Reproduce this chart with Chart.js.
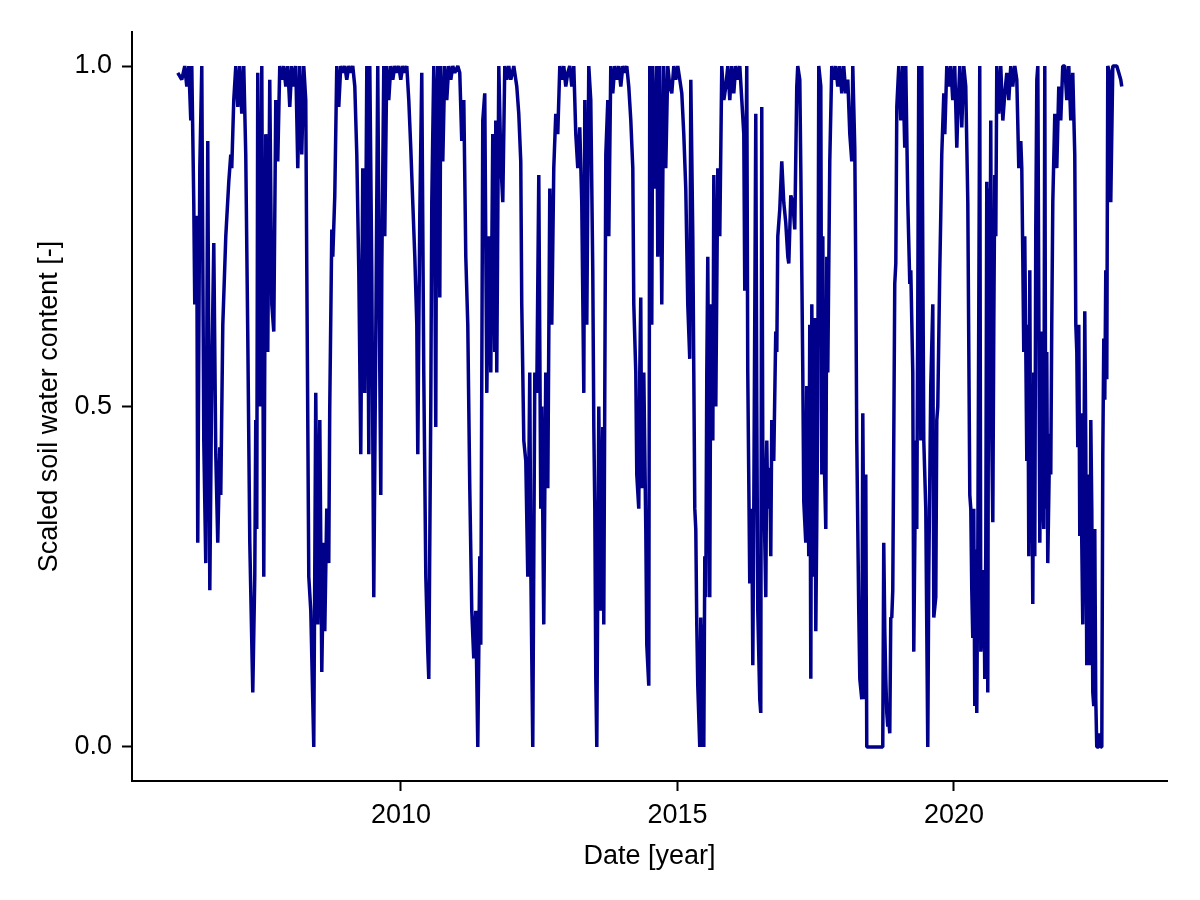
<!DOCTYPE html>
<html lang="en">
<head>
  <meta charset="UTF-8">
  <title>Scaled soil water content</title>
  <script src="https://cdn.jsdelivr.net/npm/chart.js"></script>
  <style>
    body {
      margin: 0;
      background: #ffffff;
    }
    .wrap {
      width: 1200px;
      height: 900px;
    }
  </style>
</head>
<body>
  <div class="wrap">
    <canvas id="soilChart" width="1200" height="900"></canvas>
  </div>

  <script>
    // decimal year of each sample
    const dates = [
      2005.964, 2006.036, 2006.090, 2006.127, 2006.163, 2006.199, 2006.217, 2006.253, 2006.271, 2006.307, 2006.325, 2006.362, 2006.398, 2006.434, 2006.470, 2006.506, 2006.543, 2006.579, 2006.615, 2006.651, 2006.687, 2006.723, 2006.741, 2006.778, 2006.832, 2006.886, 2006.922, 2006.940, 2006.976,
      2007.013, 2007.049, 2007.085, 2007.121, 2007.157, 2007.193, 2007.230, 2007.266, 2007.320, 2007.356, 2007.374, 2007.392, 2007.410, 2007.447, 2007.483, 2007.519, 2007.555, 2007.591, 2007.627, 2007.664, 2007.700, 2007.736, 2007.772, 2007.808, 2007.844, 2007.881, 2007.917, 2007.953, 2007.989,
      2008.025, 2008.061, 2008.098, 2008.134, 2008.170, 2008.206, 2008.242, 2008.278, 2008.297, 2008.333, 2008.369, 2008.423, 2008.459, 2008.495, 2008.532, 2008.568, 2008.604, 2008.622, 2008.658, 2008.694, 2008.712, 2008.749, 2008.767, 2008.803, 2008.839, 2008.875, 2008.911, 2008.948, 2008.984,
      2009.020, 2009.056, 2009.092, 2009.128, 2009.165, 2009.201, 2009.237, 2009.273, 2009.309, 2009.345, 2009.382, 2009.418, 2009.436, 2009.472, 2009.508, 2009.544, 2009.580, 2009.617, 2009.635, 2009.653, 2009.689, 2009.707, 2009.743, 2009.779, 2009.816, 2009.852, 2009.888, 2009.924, 2009.960, 2009.996,
      2010.033, 2010.069, 2010.105, 2010.141, 2010.177, 2010.213, 2010.250, 2010.286, 2010.304, 2010.340, 2010.376, 2010.412, 2010.449, 2010.485, 2010.503, 2010.539, 2010.557, 2010.593, 2010.629, 2010.647, 2010.665, 2010.702, 2010.720, 2010.756, 2010.792, 2010.828, 2010.864, 2010.901, 2010.937, 2010.973,
      2011.027, 2011.063, 2011.099, 2011.136, 2011.172, 2011.208, 2011.244, 2011.280, 2011.316, 2011.353, 2011.389, 2011.425, 2011.443, 2011.479, 2011.515, 2011.552, 2011.588, 2011.624, 2011.660, 2011.696, 2011.714, 2011.732, 2011.769, 2011.805, 2011.841, 2011.877, 2011.913, 2011.949, 2011.986,
      2012.040, 2012.094, 2012.130, 2012.166, 2012.184, 2012.221, 2012.257, 2012.293, 2012.329, 2012.347, 2012.383, 2012.420, 2012.456, 2012.492, 2012.528, 2012.546, 2012.582, 2012.618, 2012.655, 2012.691, 2012.727, 2012.763, 2012.799, 2012.835, 2012.872, 2012.908, 2012.944, 2012.980,
      2013.016, 2013.052, 2013.089, 2013.125, 2013.161, 2013.197, 2013.233, 2013.269, 2013.306, 2013.324, 2013.360, 2013.396, 2013.432, 2013.468, 2013.487, 2013.505, 2013.523, 2013.541, 2013.577, 2013.613, 2013.649, 2013.667, 2013.704, 2013.740, 2013.758, 2013.794, 2013.830, 2013.866, 2013.902, 2013.939, 2013.975,
      2014.011, 2014.047, 2014.083, 2014.119, 2014.156, 2014.192, 2014.210, 2014.246, 2014.264, 2014.300, 2014.318, 2014.336, 2014.354, 2014.391, 2014.427, 2014.445, 2014.481, 2014.499, 2014.535, 2014.553, 2014.590, 2014.626, 2014.644, 2014.680, 2014.716, 2014.752, 2014.788, 2014.825, 2014.861, 2014.897, 2014.933, 2014.969,
      2015.005, 2015.042, 2015.078, 2015.114, 2015.150, 2015.186, 2015.222, 2015.241, 2015.277, 2015.295, 2015.313, 2015.331, 2015.349, 2015.367, 2015.403, 2015.421, 2015.439, 2015.458, 2015.476, 2015.494, 2015.512, 2015.530, 2015.548, 2015.584, 2015.603, 2015.621, 2015.639, 2015.657, 2015.693, 2015.729, 2015.765, 2015.801, 2015.838, 2015.874, 2015.910, 2015.946, 2015.982,
      2016.018, 2016.054, 2016.090, 2016.127, 2016.163, 2016.199, 2016.217, 2016.235, 2016.253, 2016.271, 2016.307, 2016.344, 2016.362, 2016.380, 2016.416, 2016.434, 2016.452, 2016.488, 2016.506, 2016.524, 2016.542, 2016.561, 2016.597, 2016.615, 2016.633, 2016.669, 2016.687, 2016.705, 2016.741, 2016.777, 2016.796, 2016.814, 2016.850, 2016.886, 2016.922, 2016.958, 2016.995,
      2017.013, 2017.049, 2017.085, 2017.121, 2017.157, 2017.175, 2017.212, 2017.230, 2017.266, 2017.284, 2017.302, 2017.320, 2017.338, 2017.356, 2017.374, 2017.392, 2017.411, 2017.429, 2017.447, 2017.465, 2017.483, 2017.501, 2017.519, 2017.537, 2017.555, 2017.592, 2017.610, 2017.628, 2017.646, 2017.682, 2017.700, 2017.718, 2017.754, 2017.790, 2017.827, 2017.863, 2017.899, 2017.935, 2017.971,
      2018.007, 2018.043, 2018.080, 2018.116, 2018.152, 2018.170, 2018.206, 2018.224, 2018.242, 2018.278, 2018.297, 2018.333, 2018.351, 2018.387, 2018.405, 2018.423, 2018.477, 2018.568, 2018.658, 2018.712, 2018.730, 2018.749, 2018.767, 2018.785, 2018.803, 2018.821, 2018.839, 2018.857, 2018.875, 2018.893, 2018.911, 2018.929, 2018.948, 2018.966,
      2019.002, 2019.038, 2019.074, 2019.110, 2019.128, 2019.165, 2019.201, 2019.219, 2019.255, 2019.273, 2019.309, 2019.327, 2019.345, 2019.363, 2019.400, 2019.418, 2019.454, 2019.490, 2019.526, 2019.544, 2019.580, 2019.617, 2019.635, 2019.671, 2019.689, 2019.707, 2019.743, 2019.761, 2019.779, 2019.816, 2019.834, 2019.870, 2019.906, 2019.942, 2019.978,
      2020.014, 2020.051, 2020.069, 2020.105, 2020.141, 2020.177, 2020.213, 2020.250, 2020.286, 2020.304, 2020.322, 2020.340, 2020.358, 2020.376, 2020.394, 2020.412, 2020.430, 2020.466, 2020.485, 2020.521, 2020.539, 2020.557, 2020.575, 2020.593, 2020.611, 2020.629, 2020.647, 2020.665, 2020.684, 2020.702, 2020.720, 2020.738, 2020.756, 2020.774, 2020.810, 2020.846, 2020.883, 2020.919, 2020.955, 2020.991,
      2021.027, 2021.063, 2021.100, 2021.136, 2021.172, 2021.208, 2021.226, 2021.244, 2021.262, 2021.280, 2021.299, 2021.317, 2021.335, 2021.353, 2021.371, 2021.389, 2021.407, 2021.425, 2021.443, 2021.461, 2021.479, 2021.498, 2021.516, 2021.552, 2021.588, 2021.606, 2021.624, 2021.642, 2021.660, 2021.678, 2021.696, 2021.732, 2021.750, 2021.768, 2021.787, 2021.823, 2021.859, 2021.895, 2021.931, 2021.967,
      2022.004, 2022.040, 2022.076, 2022.112, 2022.148, 2022.184, 2022.203, 2022.221, 2022.239, 2022.257, 2022.275, 2022.293, 2022.311, 2022.329, 2022.347, 2022.365, 2022.383, 2022.401, 2022.420, 2022.438, 2022.456, 2022.474, 2022.492, 2022.510, 2022.528, 2022.546, 2022.564, 2022.582, 2022.618, 2022.637, 2022.655, 2022.673, 2022.691, 2022.709, 2022.727, 2022.745, 2022.763, 2022.781, 2022.817, 2022.835, 2022.872, 2022.908, 2022.944, 2022.980, 2023.016, 2023.034
    ];

    // scaled soil water content [-], one value per date
    const soilWater = [
      0.99, 0.98, 1.00, 0.97, 1.00, 0.92, 1.00, 0.80, 0.65, 0.78, 0.30, 0.85, 1.00, 0.45, 0.27, 0.89, 0.23, 0.55, 0.74, 0.43, 0.30, 0.44, 0.37, 0.62, 0.75, 0.83, 0.87, 0.85, 0.95,
      1.00, 0.94, 1.00, 0.93, 1.00, 0.87, 0.60, 0.30, 0.08, 0.25, 0.48, 0.32, 0.99, 0.50, 1.00, 0.25, 0.90, 0.58, 0.98, 0.65, 0.61, 0.95, 0.86, 1.00, 0.98, 1.00, 0.97, 1.00, 0.94,
      1.00, 0.97, 1.00, 0.85, 1.00, 0.87, 1.00, 0.95, 0.70, 0.25, 0.20, 0.00, 0.52, 0.18, 0.48, 0.11, 0.30, 0.17, 0.35, 0.27, 0.50, 0.76, 0.72, 0.81, 1.00, 0.94, 1.00, 0.99, 1.00,
      0.98, 1.00, 0.99, 1.00, 0.97, 0.87, 0.70, 0.43, 0.85, 0.52, 1.00, 0.43, 1.00, 0.70, 0.22, 0.60, 1.00, 0.55, 0.37, 0.70, 1.00, 0.75, 1.00, 0.95, 1.00, 0.98, 1.00, 0.99, 1.00, 0.98,
      1.00, 0.99, 1.00, 0.95, 0.88, 0.80, 0.72, 0.62, 0.43, 0.78, 0.99, 0.55, 0.25, 0.14, 0.10, 0.50, 0.80, 1.00, 0.47, 0.95, 1.00, 0.66, 1.00, 0.86, 1.00, 0.95, 1.00, 0.98, 1.00, 0.99,
      1.00, 0.99, 0.89, 0.95, 0.72, 0.62, 0.38, 0.20, 0.13, 0.20, 0.00, 0.28, 0.15, 0.92, 0.96, 0.52, 0.75, 0.55, 0.90, 0.58, 0.92, 0.55, 1.00, 0.86, 0.80, 1.00, 0.98, 1.00, 0.98,
      1.00, 0.97, 0.93, 0.86, 0.65, 0.45, 0.42, 0.25, 0.55, 0.27, 0.00, 0.55, 0.52, 0.84, 0.35, 0.50, 0.18, 0.55, 0.38, 0.82, 0.62, 0.85, 0.93, 0.90, 1.00, 0.98, 1.00, 0.97,
      0.99, 1.00, 0.97, 1.00, 0.90, 0.85, 0.91, 0.80, 0.52, 0.95, 0.62, 1.00, 0.95, 0.70, 0.47, 0.35, 0.10, 0.00, 0.50, 0.20, 0.47, 0.18, 0.87, 0.95, 0.75, 1.00, 0.96, 1.00, 0.98, 1.00, 0.97,
      1.00, 0.99, 1.00, 0.97, 0.92, 0.85, 0.65, 0.55, 0.40, 0.35, 0.55, 0.66, 0.38, 0.55, 0.32, 0.15, 0.09, 1.00, 0.62, 1.00, 0.82, 1.00, 0.72, 1.00, 0.65, 1.00, 0.85, 1.00, 0.97, 0.96, 1.00, 0.98,
      1.00, 0.98, 0.96, 0.90, 0.82, 0.65, 0.57, 0.98, 0.75, 0.55, 0.35, 0.32, 0.18, 0.09, 0.00, 0.19, 0.00, 0.18, 0.00, 0.28, 0.22, 0.55, 0.72, 0.22, 0.65, 0.60, 0.45, 0.84, 0.50, 0.85, 0.75, 1.00, 0.95, 0.97, 1.00, 0.95, 1.00,
      0.96, 1.00, 0.98, 1.00, 0.95, 0.90, 0.67, 0.83, 1.00, 0.55, 0.24, 0.35, 0.12, 0.35, 0.93, 0.50, 0.20, 0.07, 0.05, 0.94, 0.45, 0.38, 0.22, 0.45, 0.35, 0.41, 0.28, 0.48, 0.42, 0.61, 0.58, 0.75, 0.79, 0.86, 0.80, 0.77, 0.72,
      0.71, 0.81, 0.80, 0.76, 0.97, 1.00, 0.98, 0.85, 0.55, 0.36, 0.33, 0.30, 0.53, 0.45, 0.28, 0.62, 0.10, 0.65, 0.45, 0.25, 0.63, 0.17, 0.33, 0.50, 1.00, 0.97, 0.40, 0.75, 0.45, 0.32, 0.72, 0.55, 0.86, 1.00, 0.98, 1.00, 0.97, 1.00, 0.96,
      1.00, 0.96, 0.98, 0.90, 0.86, 1.00, 0.88, 0.70, 0.45, 0.20, 0.10, 0.07, 0.49, 0.07, 0.40, 0.00, 0.00, 0.00, 0.00, 0.00, 0.30, 0.17, 0.10, 0.05, 0.03, 0.04, 0.02, 0.19, 0.19, 0.23, 0.45, 0.68, 0.71, 0.94,
      1.00, 0.92, 1.00, 0.88, 1.00, 0.80, 0.68, 0.70, 0.55, 0.14, 0.45, 0.32, 0.64, 1.00, 0.45, 1.00, 0.45, 0.35, 0.00, 0.25, 0.53, 0.65, 0.19, 0.22, 0.48, 0.50, 0.70, 0.78, 0.87, 0.96, 0.90, 1.00, 0.97, 1.00, 0.95,
      1.00, 0.88, 0.93, 1.00, 0.91, 1.00, 0.97, 0.80, 0.37, 0.35, 0.23, 0.16, 0.35, 0.06, 0.29, 0.05, 0.27, 1.00, 0.14, 0.20, 0.26, 0.10, 0.29, 0.83, 0.08, 0.82, 0.55, 0.92, 0.45, 0.33, 0.62, 0.84, 0.75, 1.00, 0.93, 1.00, 0.92, 0.96, 0.99, 0.95,
      1.00, 0.97, 1.00, 0.98, 0.85, 0.89, 0.85, 0.72, 0.58, 0.75, 0.58, 0.42, 0.62, 0.28, 0.70, 0.30, 0.44, 0.21, 0.55, 0.28, 0.76, 0.98, 1.00, 0.30, 0.61, 0.37, 0.32, 1.00, 0.35, 0.58, 0.27, 0.46, 0.40, 0.62, 0.80, 0.93, 0.85, 0.97, 0.92, 1.00,
      1.00, 0.95, 1.00, 0.92, 0.99, 0.87, 0.62, 0.58, 0.44, 0.62, 0.31, 0.49, 0.30, 0.18, 0.35, 0.64, 0.45, 0.12, 0.40, 0.22, 0.12, 0.48, 0.35, 0.08, 0.06, 0.32, 0.07, 0.00, 0.00, 0.02, 0.00, 0.00, 0.43, 0.60, 0.51, 0.70, 0.54, 1.00, 0.99, 0.80, 1.00, 1.00, 1.00, 0.99, 0.98, 0.97
    ];

    const xTicks = [2010, 2015, 2020];
    const yTicks = [0.0, 0.5, 1.0];

    const xMin = 2005.136;
    const xMax = 2023.852;
    const yMin = -0.05;
    const yMax = 1.05;

    const n = Math.min(dates.length, soilWater.length);
    const points = [];
    for (let i = 0; i < n; i++) {
      points.push({ x: dates[i], y: soilWater[i] });
    }

    const font = { family: "'Liberation Sans', Arial, sans-serif", size: 27 };

    new Chart(document.getElementById('soilChart'), {
      type: 'line',
      data: {
        datasets: [{
          label: 'Scaled soil water content',
          data: points,
          borderColor: '#00008b',
          borderWidth: 3.5,
          borderJoinStyle: 'bevel',
          pointRadius: 0,
          tension: 0,
          fill: false
        }]
      },
      options: {
        responsive: false,
        animation: false,
        devicePixelRatio: 1,
        layout: { padding: { top: 32, right: 33, left: 0, bottom: 0 } },
        plugins: {
          legend: { display: false },
          tooltip: { enabled: false }
        },
        scales: {
          x: {
            type: 'linear',
            min: xMin,
            max: xMax,
            afterBuildTicks: (axis) => { axis.ticks = xTicks.map(v => ({ value: v })); },
            afterFit: (axis) => { axis.height = 119; },
            grid: {
              drawOnChartArea: false,
              drawTicks: true,
              tickLength: 10,
              tickWidth: 2,
              tickColor: '#000000'
            },
            border: { display: true, color: '#000000', width: 2 },
            ticks: {
              color: '#000000',
              font: font,
              padding: 8,
              maxRotation: 0,
              callback: (v) => String(v)
            },
            title: {
              display: true,
              text: 'Date [year]',
              color: '#000000',
              font: font,
              padding: { top: 0, bottom: 27 }
            }
          },
          y: {
            type: 'linear',
            min: yMin,
            max: yMax,
            afterBuildTicks: (axis) => { axis.ticks = yTicks.map(v => ({ value: v })); },
            afterFit: (axis) => { axis.width = 132; },
            grid: {
              drawOnChartArea: false,
              drawTicks: true,
              tickLength: 10,
              tickWidth: 2,
              tickColor: '#000000'
            },
            border: { display: true, color: '#000000', width: 2 },
            ticks: {
              color: '#000000',
              font: font,
              padding: 10,
              callback: (v) => Number(v).toFixed(1)
            },
            title: {
              display: true,
              text: 'Scaled soil water content [-]',
              color: '#000000',
              font: font,
              padding: { top: 33, bottom: 0 }
            }
          }
        }
      }
    });
  </script>
</body>
</html>
